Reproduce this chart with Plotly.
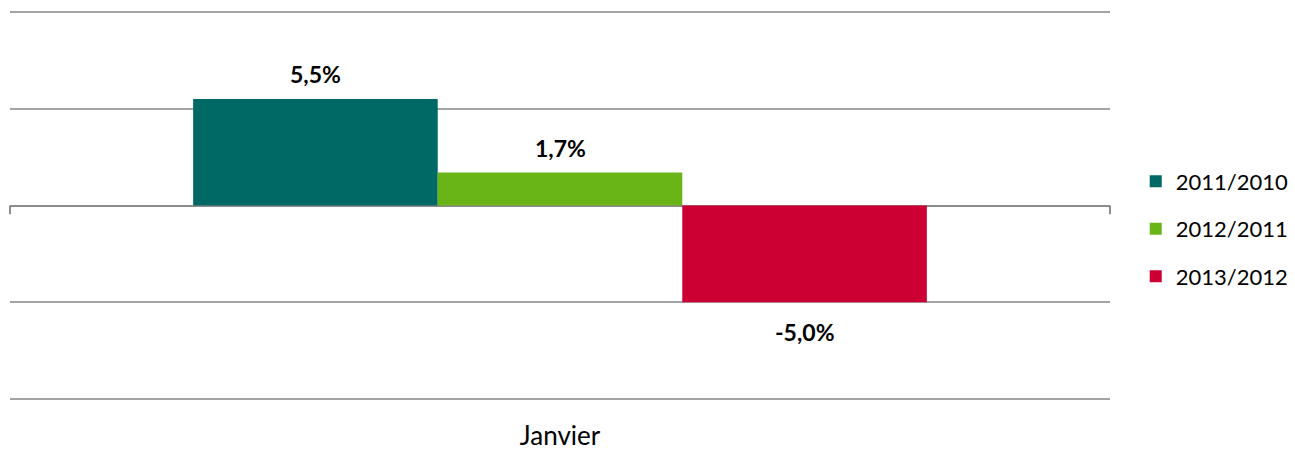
import plotly.graph_objects as go

categories = ["Janvier"]
series_names = ["2011/2010", "2012/2011", "2013/2012"]
series_values = [[5.5], [1.7], [-5.0]]
series_labels = [["5,5%"], ["1,7%"], ["-5,0%"]]
colors = ["#006966", "#69B518", "#CC0033"]

bargap = 0.333
FONT = "Lato, Carlito, 'Liberation Sans', sans-serif"

fig = go.Figure()
for i, (name, vals, col) in enumerate(zip(series_names, series_values, colors)):
    fig.add_trace(go.Bar(
        x=categories, y=vals, name=name, marker=dict(color=col, line=dict(width=0)),
        legendgroup=name,
    ))

n = len(series_names)
w = (1 - bargap) / n
for i, (vals, labs) in enumerate(zip(series_values, series_labels)):
    for ci, (v, lab) in enumerate(zip(vals, labs)):
        xc = ci - (1 - bargap) / 2 + (i + 0.5) * w
        fig.add_annotation(
            x=xc, y=v, text="<b>%s</b>" % lab, showarrow=False,
            yshift=25 if v >= 0 else -30,
            font=dict(family=FONT, size=23, color="#000000"),
        )

# small end ticks on zero line
for xd in (0, 1):
    fig.add_shape(type="line", xref="x domain", yref="y", x0=xd, x1=xd, y0=0, y1=-0.45,
                  line=dict(color="#8c8c8c", width=2))

fig.update_layout(
    width=1295, height=455,
    margin=dict(l=10, r=185, t=6, b=50, autoexpand=False),
    barmode="group", bargap=bargap, bargroupgap=0,
    plot_bgcolor="white", paper_bgcolor="white",
    font=dict(family=FONT, size=22, color="#000000"),
    showlegend=True,
    legend=dict(xref="container", yref="container", x=0.877, y=0.497,
                yanchor="middle", xanchor="left",
                font=dict(family=FONT, size=22), tracegroupgap=16,
                itemwidth=30, bgcolor="rgba(0,0,0,0)"),
    xaxis=dict(showgrid=False, showline=False, ticks="", ticklabelstandoff=13,
               automargin=False, tickfont=dict(family=FONT, size=26)),
    yaxis=dict(range=[-10.3, 10.3], tickvals=[-10, -5, 0, 5, 10], showticklabels=False,
               automargin=False,
               showgrid=True, gridcolor="#a3a3a3", gridwidth=2, zeroline=True,
               zerolinecolor="#8c8c8c", zerolinewidth=2, showline=False, ticks=""),
)

fig.write_html("out.html", config={"displayModeBar": False},
               post_script="document.body.style.margin='0';")
